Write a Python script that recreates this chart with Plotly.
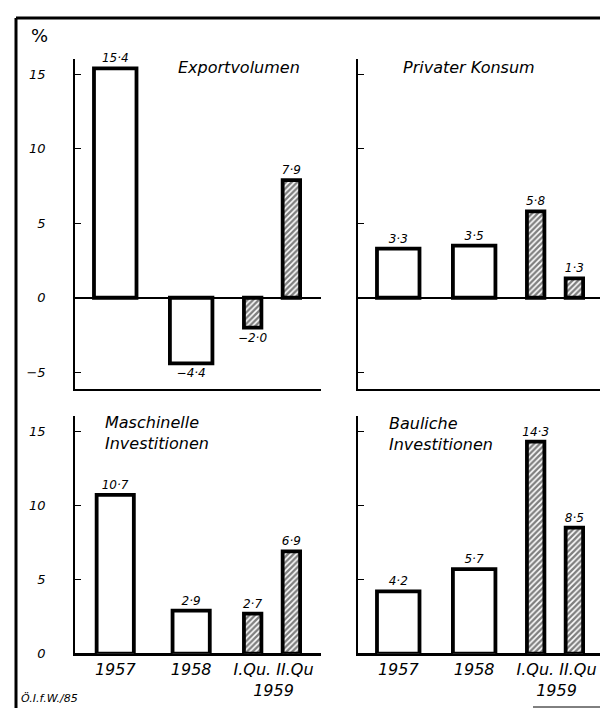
import plotly.graph_objects as go

# ---------------- data ----------------
categories = ["1957", "1958", "I.Qu.", "II.Qu"]
quarter_year = "1959"
panel_titles = ["Exportvolumen", "Privater Konsum",
                "Maschinelle<br>Investitionen", "Bauliche<br>Investitionen"]
export_vol = [15.4, -4.4, -2.0, 7.9]
privater_konsum = [3.3, 3.5, 5.8, 1.3]
maschinelle_inv = [10.7, 2.9, 2.7, 6.9]
bauliche_inv = [4.2, 5.7, 14.3, 8.5]
y_ticks = [-5, 0, 5, 10, 15]
unit_label = "%"
source_label = "Ö.I.f.W./85"

# ---------------- layout helpers ----------------
W, H = 608, 708
FONT = "DejaVu Sans"
def fx(p): return p / W
def fy(p): return 1 - p / H

slot_pos = [0.53, 1.53, 2.34, 2.85]      # horizontal slots of the bars
quarter_w = 0.23
x_range = [0, 3.24]

def fmt(v):
    s = f"{abs(v):.1f}".replace(".", "·")
    return ("−" + s) if v < 0 else s

panels = [
    dict(vals=export_vol, xa="x", ya="y", xd=[67, 313], yd=[52, 385], yr=[-6.1, 16.0], aw=0.56, labels=True, bottom=False),
    dict(vals=privater_konsum, xa="x2", ya="y2", xd=[350, 596], yd=[52, 385], yr=[-6.1, 16.0], aw=0.56, labels=False, bottom=False),
    dict(vals=maschinelle_inv, xa="x3", ya="y3", xd=[67, 313], yd=[413, 653], yr=[0, 16.0], aw=0.49, labels=True, bottom=True),
    dict(vals=bauliche_inv, xa="x4", ya="y4", xd=[350, 596], yd=[413, 653], yr=[0, 16.0], aw=0.56, labels=False, bottom=True),
]

fig = go.Figure()
layout = dict(
    width=W, height=H, margin=dict(l=0, r=0, t=0, b=0),
    paper_bgcolor="white", plot_bgcolor="white", showlegend=False,
    font=dict(family=FONT, color="black"),
)

for i, p in enumerate(panels):
    vals = p["vals"]
    n_annual = 2
    # annual bars (open)
    fig.add_trace(go.Bar(
        x=slot_pos[:n_annual], y=vals[:n_annual], width=p["aw"],
        xaxis=p["xa"], yaxis=p["ya"],
        marker=dict(color="white", line=dict(color="black", width=3.8)),
        text=[fmt(v) for v in vals[:n_annual]], textposition="outside",
        textfont=dict(family=FONT, size=12, style="italic", color="black"),
        constraintext="none", cliponaxis=False, hoverinfo="skip",
    ))
    # quarterly bars (hatched)
    fig.add_trace(go.Bar(
        x=slot_pos[n_annual:], y=vals[n_annual:], width=quarter_w,
        xaxis=p["xa"], yaxis=p["ya"],
        marker=dict(color="white", line=dict(color="black", width=3.8),
                    pattern=dict(shape="/", fgcolor="black", bgcolor="white",
                                 size=4, solidity=0.6)),
        text=[fmt(v) for v in vals[n_annual:]], textposition="outside",
        textfont=dict(family=FONT, size=12, style="italic", color="black"),
        constraintext="none", cliponaxis=False, hoverinfo="skip",
    ))

    sfx = "" if i == 0 else str(i + 1)
    xa = dict(
        domain=[fx(p["xd"][0]), fx(p["xd"][1])], range=x_range, anchor=p["ya"],
        showgrid=False, zeroline=False, showline=True, linecolor="black",
        linewidth=2, ticks="", fixedrange=True,
    )
    if p["bottom"]:
        xa.update(
            tickmode="array",
            tickvals=[slot_pos[0], slot_pos[1], (slot_pos[2] + slot_pos[3]) / 2 + 0.02],
            ticktext=[categories[0], categories[1],
                      categories[2] + " " + categories[3] + "<br>" + quarter_year],
            tickangle=0,
            tickfont=dict(family=FONT, size=16, style="italic", color="black"),
        )
    else:
        xa.update(showticklabels=False)
    ya = dict(
        domain=[fy(p["yd"][1]), fy(p["yd"][0])], range=p["yr"], anchor=p["xa"],
        showgrid=False, zeroline=True, zerolinecolor="black", zerolinewidth=2,
        showline=True, linecolor="black", linewidth=1.5,
        ticks="inside", ticklen=6, tickwidth=1.2, tickcolor="black",
        tickmode="array", tickvals=[t for t in y_ticks if t >= p["yr"][0]],
        fixedrange=True,
    )
    if p["labels"]:
        ya.update(showticklabels=True, ticklabelstandoff=25,
                  tickfont=dict(family=FONT, size=13, style="italic", color="black"))
    else:
        ya.update(showticklabels=False)
    layout["xaxis" + sfx] = xa
    layout["yaxis" + sfx] = ya

annotations = [
    dict(text=f"<i>{panel_titles[0]}</i>", x=fx(231), y=fy(60), xanchor="center", yanchor="middle",
         font=dict(size=16)),
    dict(text=f"<i>{panel_titles[1]}</i>", x=fx(461), y=fy(60), xanchor="center", yanchor="middle",
         font=dict(size=16)),
    dict(text=f"<i>{panel_titles[2]}</i>", x=fx(95), y=fy(430), xanchor="left", yanchor="middle",
         font=dict(size=16), align="left"),
    dict(text=f"<i>{panel_titles[3]}</i>", x=fx(379), y=fy(431), xanchor="left", yanchor="middle",
         font=dict(size=16), align="left"),
    dict(text=unit_label, x=fx(31), y=fy(28), xanchor="center", yanchor="middle",
         font=dict(size=18)),
    dict(text=f"<i>{source_label}</i>", x=fx(11), y=fy(698), xanchor="left", yanchor="middle",
         font=dict(size=11)),
]
for a in annotations:
    a.update(xref="paper", yref="paper", showarrow=False)
    a["font"].update(family=FONT, color="black")
layout["annotations"] = annotations

layout["shapes"] = [
    dict(type="line", xref="paper", yref="paper", x0=fx(8), x1=1, y0=fy(10), y1=fy(10),
         line=dict(color="black", width=3)),
    dict(type="line", xref="paper", yref="paper", x0=fx(8), x1=fx(8), y0=fy(10), y1=0,
         line=dict(color="black", width=3)),
    dict(type="line", xref="paper", yref="paper", x0=fx(525), x1=fx(600), y0=fy(707), y1=fy(707),
         line=dict(color="black", width=1)),
]

fig.update_layout(**layout)
fig.write_html("out.html")
